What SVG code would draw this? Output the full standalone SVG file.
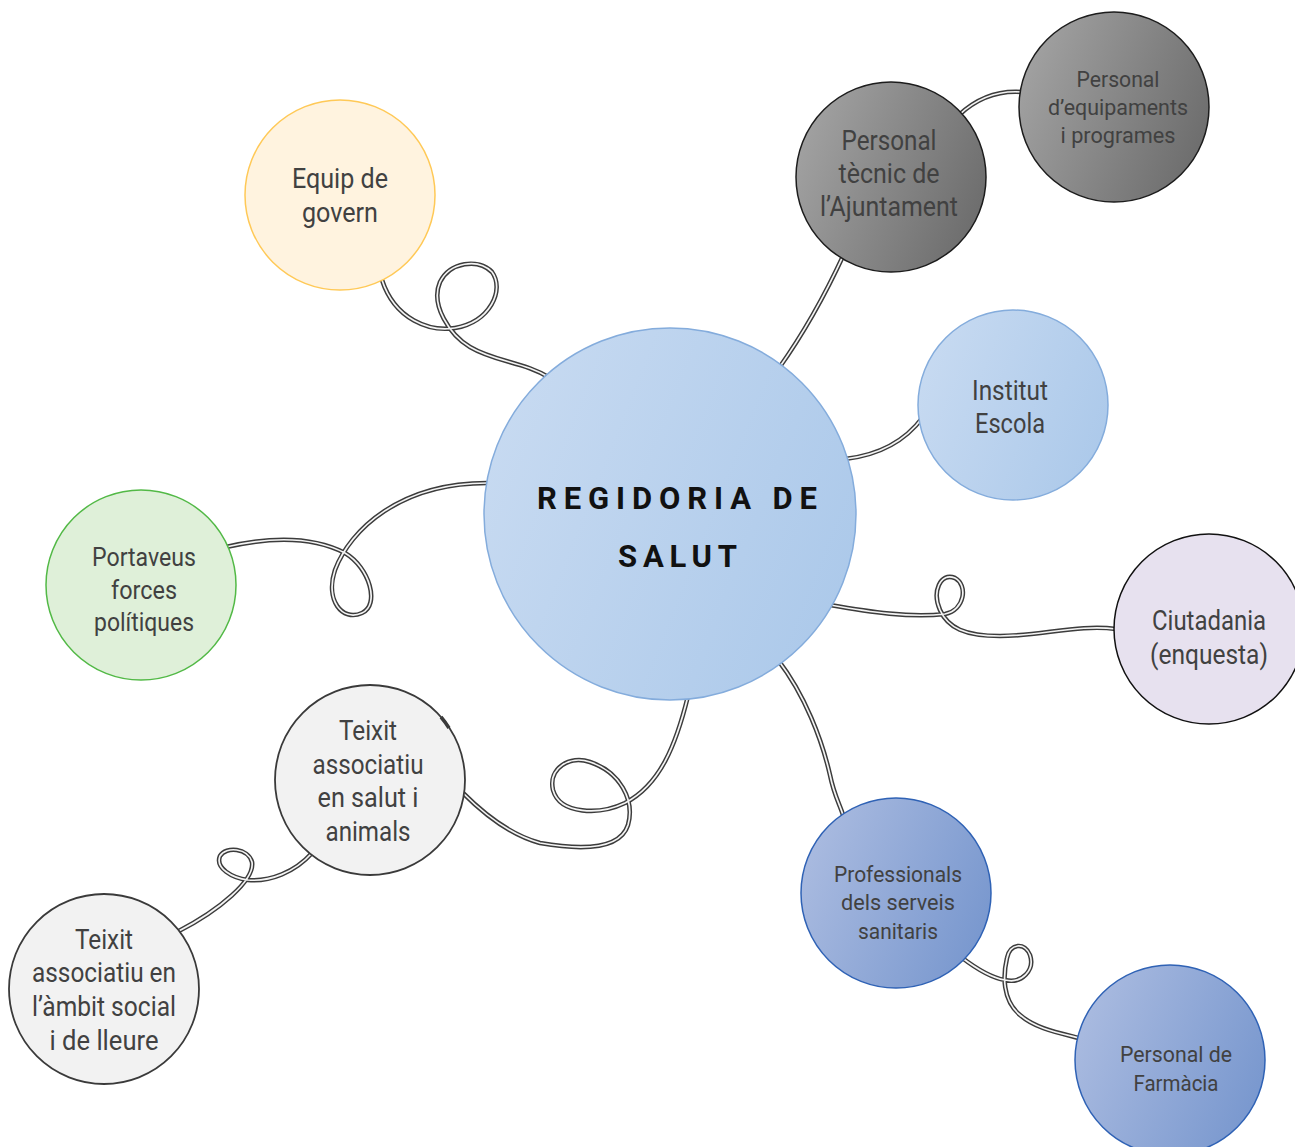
<svg xmlns="http://www.w3.org/2000/svg" xmlns:xlink="http://www.w3.org/1999/xlink" width="1295" height="1147" viewBox="0 0 1295 1147">
<style>
  .lbl{font-family:"Roboto","Liberation Sans",sans-serif;fill:#414141;text-anchor:middle}
  .big{font-size:27px}
  .mid{font-size:25px}
  .sm{font-size:22.5px}
  .title{font-family:"Roboto","Liberation Sans",sans-serif;font-weight:bold;font-size:31px;fill:#111}
  .outer{fill:none;stroke:#3c3c3c;stroke-width:4.6;stroke-linecap:round;stroke-linejoin:round}
  .inner{fill:none;stroke:#f4f4f4;stroke-width:1.7;stroke-linecap:round;stroke-linejoin:round}
</style>
<defs>
  <linearGradient id="gBlue" x1="0" y1="0.3" x2="1" y2="0.7">
    <stop offset="0" stop-color="#c7daf1"/>
    <stop offset="1" stop-color="#acc9ea"/>
  </linearGradient>
  <linearGradient id="gGrey" x1="0" y1="0.3" x2="1" y2="0.7">
    <stop offset="0" stop-color="#a2a2a2"/>
    <stop offset="1" stop-color="#6c6c6c"/>
  </linearGradient>
  <linearGradient id="gNavy" x1="0" y1="0.3" x2="1" y2="0.7">
    <stop offset="0" stop-color="#aabbe0"/>
    <stop offset="1" stop-color="#7897ce"/>
  </linearGradient>
  <path id="c1" d="M382,280 C395,320 430,332 455,328 C490,322 505,290 492,272 C478,258 450,262 440,282 C430,305 450,335 470,347 C495,362 525,362 550,378"/>
  <path id="c2" d="M844,254 C826,293 806,330 779,368"/>
  <path id="c3" d="M959,115 C975,100 995,90 1022,92"/>
  <path id="c4" d="M923,417 C906,440 880,455 845,459"/>
  <path id="c5" d="M830,605 C870,612 910,618 945,614 C965,610 968,585 955,578 C940,572 932,592 940,610 C948,628 965,636 1000,636 C1040,636 1080,624 1116,629"/>
  <path id="c6" d="M226,547 C265,538 310,535 345,553 C370,568 380,605 362,613 C342,622 325,600 335,570 C350,530 400,482 490,483"/>
  <path id="c7" d="M688,696 C676,745 660,785 625,803 C600,815 560,815 553,790 C548,768 570,755 590,762 C620,772 635,800 628,825 C620,850 580,850 540,843 C510,835 485,815 463,793"/>
  <path id="c8" d="M312,853 C295,872 270,882 248,880 C232,878 215,868 220,856 C226,846 248,848 252,862 C255,880 220,910 177,932"/>
  <path id="c9" d="M778,660 C805,695 822,740 830,775 C834,795 840,805 843,815"/>
  <path id="c10" d="M961,957 C978,970 992,978 1005,980 C1022,984 1035,970 1030,955 C1025,942 1010,943 1007,958 C1003,975 1002,1000 1020,1015 C1035,1028 1055,1032 1079,1038"/>
</defs>
<rect width="1295" height="1147" fill="#ffffff"/>
<g id="connectors">
  <use xlink:href="#c1" class="outer"/><use xlink:href="#c1" class="inner"/>
  <use xlink:href="#c2" class="outer"/><use xlink:href="#c2" class="inner"/>
  <use xlink:href="#c3" class="outer"/><use xlink:href="#c3" class="inner"/>
  <use xlink:href="#c4" class="outer"/><use xlink:href="#c4" class="inner"/>
  <use xlink:href="#c5" class="outer"/><use xlink:href="#c5" class="inner"/>
  <use xlink:href="#c6" class="outer"/><use xlink:href="#c6" class="inner"/>
  <use xlink:href="#c7" class="outer"/><use xlink:href="#c7" class="inner"/>
  <use xlink:href="#c8" class="outer"/><use xlink:href="#c8" class="inner"/>
  <use xlink:href="#c9" class="outer"/><use xlink:href="#c9" class="inner"/>
  <use xlink:href="#c10" class="outer"/><use xlink:href="#c10" class="inner"/>
</g>
<g id="center">
  <circle cx="670" cy="514" r="186" fill="url(#gBlue)" stroke="#84acdc" stroke-width="1.5"/>
  <text class="title" x="537" y="509" textLength="280" lengthAdjust="spacing">REGIDORIA DE</text>
  <text class="title" x="618" y="567" textLength="119" lengthAdjust="spacing">SALUT</text>
</g>
<g id="equip">
  <circle cx="340" cy="195" r="95" fill="#fff3df" stroke="#ffc957" stroke-width="1.5"/>
  <text class="lbl big" x="340" y="188" textLength="96" lengthAdjust="spacingAndGlyphs">Equip de</text>
  <text class="lbl big" x="340" y="222" textLength="76" lengthAdjust="spacingAndGlyphs">govern</text>
</g>
<g id="tecnic">
  <circle cx="891" cy="177" r="95" fill="url(#gGrey)" stroke="#1c1c1c" stroke-width="1.5"/>
  <text class="lbl big" x="889" y="150" textLength="95" lengthAdjust="spacingAndGlyphs">Personal</text>
  <text class="lbl big" x="889" y="183" textLength="101" lengthAdjust="spacingAndGlyphs">tècnic de</text>
  <text class="lbl big" x="889" y="216" textLength="138" lengthAdjust="spacingAndGlyphs">l’Ajuntament</text>
</g>
<g id="equipaments">
  <circle cx="1114" cy="107" r="95" fill="url(#gGrey)" stroke="#1c1c1c" stroke-width="1.5"/>
  <text class="lbl sm" x="1118" y="87" textLength="83" lengthAdjust="spacingAndGlyphs">Personal</text>
  <text class="lbl sm" x="1118" y="115" textLength="140" lengthAdjust="spacingAndGlyphs">d’equipaments</text>
  <text class="lbl sm" x="1118" y="143" textLength="115" lengthAdjust="spacingAndGlyphs">i programes</text>
</g>
<g id="institut">
  <circle cx="1013" cy="405" r="95" fill="url(#gBlue)" stroke="#84acdc" stroke-width="1.5"/>
  <text class="lbl big" x="1010" y="400" textLength="76" lengthAdjust="spacingAndGlyphs">Institut</text>
  <text class="lbl big" x="1010" y="433" textLength="70" lengthAdjust="spacingAndGlyphs">Escola</text>
</g>
<g id="ciutadania">
  <circle cx="1209" cy="629" r="95" fill="#e7e1ef" stroke="#111111" stroke-width="1.5"/>
  <text class="lbl big" x="1209" y="630" textLength="114" lengthAdjust="spacingAndGlyphs">Ciutadania</text>
  <text class="lbl big" x="1209" y="664" textLength="118" lengthAdjust="spacingAndGlyphs">(enquesta)</text>
</g>
<g id="professionals">
  <circle cx="896" cy="893" r="95" fill="url(#gNavy)" stroke="#2f62b5" stroke-width="1.5"/>
  <text class="lbl sm" x="898" y="882" textLength="128" lengthAdjust="spacingAndGlyphs">Professionals</text>
  <text class="lbl sm" x="898" y="910" textLength="114" lengthAdjust="spacingAndGlyphs">dels serveis</text>
  <text class="lbl sm" x="898" y="939" textLength="80" lengthAdjust="spacingAndGlyphs">sanitaris</text>
</g>
<g id="farmacia">
  <circle cx="1170" cy="1060" r="95" fill="url(#gNavy)" stroke="#2f62b5" stroke-width="1.5"/>
  <text class="lbl sm" x="1176" y="1062" textLength="112" lengthAdjust="spacingAndGlyphs">Personal de</text>
  <text class="lbl sm" x="1176" y="1091" textLength="85" lengthAdjust="spacingAndGlyphs">Farmàcia</text>
</g>
<g id="teixit-salut">
  <circle cx="370" cy="780" r="95" fill="#f2f2f2" stroke="#3a3a3a" stroke-width="1.8"/>
  <path d="M441,717 A95,95 0 0 1 449,728" fill="none" stroke="#3a3a3a" stroke-width="3.5"/>
  <text class="lbl big" x="368" y="740" textLength="58" lengthAdjust="spacingAndGlyphs">Teixit</text>
  <text class="lbl big" x="368" y="774" textLength="111" lengthAdjust="spacingAndGlyphs">associatiu</text>
  <text class="lbl big" x="368" y="807" textLength="101" lengthAdjust="spacingAndGlyphs">en salut i</text>
  <text class="lbl big" x="368" y="841" textLength="85" lengthAdjust="spacingAndGlyphs">animals</text>
</g>
<g id="teixit-social">
  <circle cx="104" cy="989" r="95" fill="#f2f2f2" stroke="#3a3a3a" stroke-width="1.8"/>
  <text class="lbl big" x="104" y="949" textLength="58" lengthAdjust="spacingAndGlyphs">Teixit</text>
  <text class="lbl big" x="104" y="982" textLength="144" lengthAdjust="spacingAndGlyphs">associatiu en</text>
  <text class="lbl big" x="104" y="1016" textLength="144" lengthAdjust="spacingAndGlyphs">l’àmbit social</text>
  <text class="lbl big" x="104" y="1050" textLength="109" lengthAdjust="spacingAndGlyphs">i de lleure</text>
</g>
<g id="portaveus">
  <circle cx="141" cy="585" r="95" fill="#dff0d9" stroke="#52b946" stroke-width="1.5"/>
  <text class="lbl mid" x="144" y="566" textLength="104" lengthAdjust="spacingAndGlyphs">Portaveus</text>
  <text class="lbl mid" x="144" y="599" textLength="66" lengthAdjust="spacingAndGlyphs">forces</text>
  <text class="lbl mid" x="144" y="631" textLength="100" lengthAdjust="spacingAndGlyphs">polítiques</text>
</g>
</svg>
